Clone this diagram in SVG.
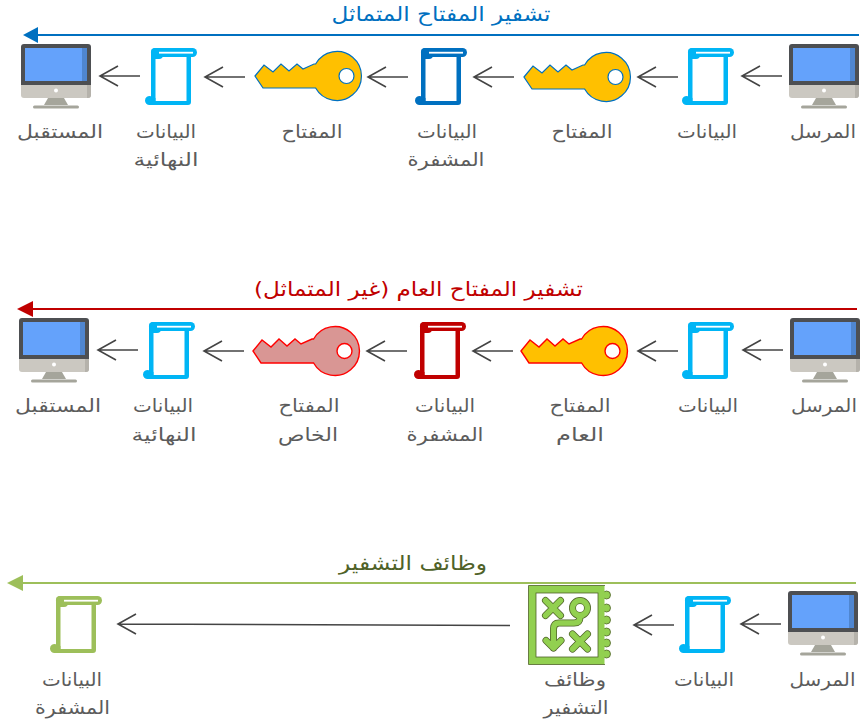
<svg xmlns="http://www.w3.org/2000/svg" width="864" height="720" viewBox="0 0 864 720">
<style>
text{font-family:"DejaVu Sans",sans-serif;direction:rtl;text-anchor:middle}
.l{font-size:18px;fill:#5c5c5c}
.t{font-size:20px}
.a{fill:none;stroke:#444;stroke-width:1.6}
.cl{stroke-width:2;fill:none}
.kb{fill:#ffc000;stroke:#0070c0;stroke-width:1.2}
.kr{fill:#ffc000;stroke:#f00;stroke-width:1.4}
.kp{fill:#d99694;stroke:#f00;stroke-width:1.4}
.c1{fill:#00b5f5}.c2{fill:#0070c0}.c3{fill:#c00000}.c4{fill:#9dbf5a}
</style>
<defs>
<g id="monitor">
<path d="M3,0H67Q70,0 70,3V41H0V3Q0,0 3,0Z" fill="#4d4f52"/>
<path d="M0,41H70V51Q70,54 67,54H3Q0,54 0,51Z" fill="#cbc8c1"/>
<path d="M66,41H70V51Q70,54 67,54H66Z" fill="#b5b2ab"/>
<rect x="4" y="4" width="62" height="33" fill="#64a2fb"/>
<rect x="61" y="4" width="5" height="33" fill="#4f86d0"/>
<circle cx="35" cy="46.500" r="2" fill="#fff"/>
<path d="M27,54H43L47,61H23Z" fill="#a5a59b"/>
<rect x="12" y="61.500" width="46" height="3" rx="1.500" fill="#a5a59b"/>
</g>
<g id="scroll">
<rect x="6" y="0" width="46" height="9" rx="4.500"/>
<rect x="6" y="0" width="12" height="11" rx="4"/>
<rect x="6" y="4" width="4.500" height="50"/>
<rect x="41.500" y="6" width="4.500" height="48"/>
<path d="M0,52.500A4.500,4.500 0 0 1 6,48.300L10.500,50V53H46V54Q46,57 43,57H4.500A4.500,4.500 0 0 1 0,52.500Z"/>
<rect x="14" y="3.800" width="34" height="1.800" fill="#fff"/>
</g>
<path id="key" fill-rule="evenodd" d="M0,25L9,14L18,21L26,13L34,20L42,13L48,18L59,13H60.600A24.500,24.500 0 1 1 60.600,37H8ZM99,25A7.500,7.500 0 1 0 84,25A7.500,7.500 0 1 0 99,25Z"/>
<g id="fnmarks">
<path d="M545.500,600.500L560.500,615.500M560.500,600.500L545.500,615.500"/>
<circle cx="580" cy="608" r="7.500"/>
<path d="M580,615.500V617Q580,623 574,623H559Q553.500,623 553.500,629V648M546,640.500L553.500,648L561,640.500"/>
<path d="M572.500,634L587.500,649M587.500,634L572.500,649"/>
</g>
<path id="ar" d="M0,0H40M18,-10L0,0L18,10"/>
</defs>

<g id="connectors">
<g class="cl">
<path d="M859,35H30" stroke="#0070c0" class="cl"/><path d="M23,35L38,27V43Z" fill="#0070c0"/>
<path d="M857,309H25" stroke="#c00000" class="cl"/><path d="M17,309L33,301V317Z" fill="#c00000"/>
<path d="M856,583H15" stroke="#9dbf5a" class="cl"/><path d="M7,583L23,575V591Z" fill="#9dbf5a"/>
</g>
<use href="#ar" class="a" x="100" y="76"/>
<use href="#ar" class="a" x="205" y="77"/>
<use href="#ar" class="a" x="368" y="77"/>
<use href="#ar" class="a" x="474" y="77"/>
<use href="#ar" class="a" x="638" y="77"/>
<use href="#ar" class="a" x="742" y="76"/>
<use href="#ar" class="a" x="98" y="350"/>
<use href="#ar" class="a" x="204" y="351"/>
<use href="#ar" class="a" x="367" y="351"/>
<use href="#ar" class="a" x="473" y="351"/>
<use href="#ar" class="a" x="638" y="351"/>
<use href="#ar" class="a" x="743" y="350"/>
<use href="#ar" class="a" x="741" y="624"/>
<use href="#ar" class="a" x="634" y="625"/>
<path class="a" d="M510,625.500L118,624M136,614L118,624L136,634"/>
</g>

<text class="t" x="441" y="21" fill="#0070c0" textLength="219" lengthAdjust="spacingAndGlyphs">تشفير المفتاح المتماثل</text>
<text class="t" x="418.500" y="296" fill="#c00000" textLength="329" lengthAdjust="spacingAndGlyphs">تشفير المفتاح العام (غير المتماثل)</text>
<text class="t" x="413" y="570" fill="#4f6228" textLength="148" lengthAdjust="spacingAndGlyphs">وظائف التشفير</text>

<g id="r1-receiver"><use href="#monitor" x="21" y="44"/><text class="l" x="60" y="138" textLength="86" lengthAdjust="spacingAndGlyphs">المستقبل</text></g>
<g id="r1-final"><use href="#scroll" x="145" y="48" class="c1"/><text class="l" x="166" y="138" textLength="60" lengthAdjust="spacingAndGlyphs">البيانات</text><text class="l" x="166" y="166" textLength="65" lengthAdjust="spacingAndGlyphs">النهائية</text></g>
<g id="r1-key2"><use href="#key" x="255" y="51" class="kb"/><text class="l" x="312" y="138" textLength="61" lengthAdjust="spacingAndGlyphs">المفتاح</text></g>
<g id="r1-enc"><use href="#scroll" x="415" y="48" class="c2"/><text class="l" x="447" y="138" textLength="60" lengthAdjust="spacingAndGlyphs">البيانات</text><text class="l" x="446" y="166" textLength="77" lengthAdjust="spacingAndGlyphs">المشفرة</text></g>
<g id="r1-key1"><use href="#key" x="524" y="52" class="kb"/><text class="l" x="582" y="138" textLength="61" lengthAdjust="spacingAndGlyphs">المفتاح</text></g>
<g id="r1-data"><use href="#scroll" x="682" y="48" class="c1"/><text class="l" x="707" y="138" textLength="60" lengthAdjust="spacingAndGlyphs">البيانات</text></g>
<g id="r1-sender"><use href="#monitor" x="789" y="44"/><text class="l" x="823" y="138" textLength="66" lengthAdjust="spacingAndGlyphs">المرسل</text></g>

<g id="r2-receiver"><use href="#monitor" x="19" y="318"/><text class="l" x="58" y="412" textLength="86" lengthAdjust="spacingAndGlyphs">المستقبل</text></g>
<g id="r2-final"><use href="#scroll" x="143" y="322" class="c1"/><text class="l" x="163" y="412" textLength="60" lengthAdjust="spacingAndGlyphs">البيانات</text><text class="l" x="164" y="441" textLength="65" lengthAdjust="spacingAndGlyphs">النهائية</text></g>
<g id="r2-private"><use href="#key" x="253" y="326" class="kp"/><text class="l" x="309" y="412" textLength="61" lengthAdjust="spacingAndGlyphs">المفتاح</text><text class="l" x="308" y="441" textLength="60" lengthAdjust="spacingAndGlyphs">الخاص</text></g>
<g id="r2-enc"><use href="#scroll" x="414" y="322" class="c3"/><text class="l" x="445" y="412" textLength="60" lengthAdjust="spacingAndGlyphs">البيانات</text><text class="l" x="445" y="441" textLength="77" lengthAdjust="spacingAndGlyphs">المشفرة</text></g>
<g id="r2-public"><use href="#key" x="521" y="326" class="kr"/><text class="l" x="580" y="412" textLength="61" lengthAdjust="spacingAndGlyphs">المفتاح</text><text class="l" x="580" y="441" textLength="48" lengthAdjust="spacingAndGlyphs">العام</text></g>
<g id="r2-data"><use href="#scroll" x="682" y="322" class="c1"/><text class="l" x="708" y="412" textLength="60" lengthAdjust="spacingAndGlyphs">البيانات</text></g>
<g id="r2-sender"><use href="#monitor" x="790" y="318"/><text class="l" x="824" y="412" textLength="66" lengthAdjust="spacingAndGlyphs">المرسل</text></g>

<g id="r3-enc"><use href="#scroll" x="50" y="596" class="c4"/><text class="l" x="72" y="686" textLength="60" lengthAdjust="spacingAndGlyphs">البيانات</text><text class="l" x="72.500" y="714" textLength="75" lengthAdjust="spacingAndGlyphs">المشفرة</text></g>
<g id="r3-function">
<g fill="#92d050" stroke="#4f6228" stroke-width="0.800">
<circle cx="606.500" cy="595" r="4"/><circle cx="606.500" cy="608" r="4"/><circle cx="606.500" cy="620" r="4"/><circle cx="606.500" cy="632" r="4"/><circle cx="606.500" cy="643" r="4"/><circle cx="606.500" cy="654" r="4"/>
<rect x="528.500" y="585.500" width="76" height="79" stroke="none"/>
<path d="M605,585.500H528.500V664.500H605" fill="none"/>
<rect x="536" y="593" width="62" height="64" fill="#fff"/>
</g>
<use href="#fnmarks" fill="none" stroke="#4f6228" stroke-width="7" stroke-linecap="round" stroke-linejoin="round"/>
<use href="#fnmarks" fill="none" stroke="#92d050" stroke-width="5.500" stroke-linecap="round" stroke-linejoin="round"/>
<text class="l" x="575" y="686" textLength="62" lengthAdjust="spacingAndGlyphs">وظائف</text><text class="l" x="576" y="714" textLength="65" lengthAdjust="spacingAndGlyphs">التشفير</text>
</g>
<g id="r3-data"><use href="#scroll" x="679" y="596" class="c1"/><text class="l" x="704" y="686" textLength="60" lengthAdjust="spacingAndGlyphs">البيانات</text></g>
<g id="r3-sender"><use href="#monitor" x="788" y="591"/><text class="l" x="822.500" y="686" textLength="66" lengthAdjust="spacingAndGlyphs">المرسل</text></g>
</svg>
